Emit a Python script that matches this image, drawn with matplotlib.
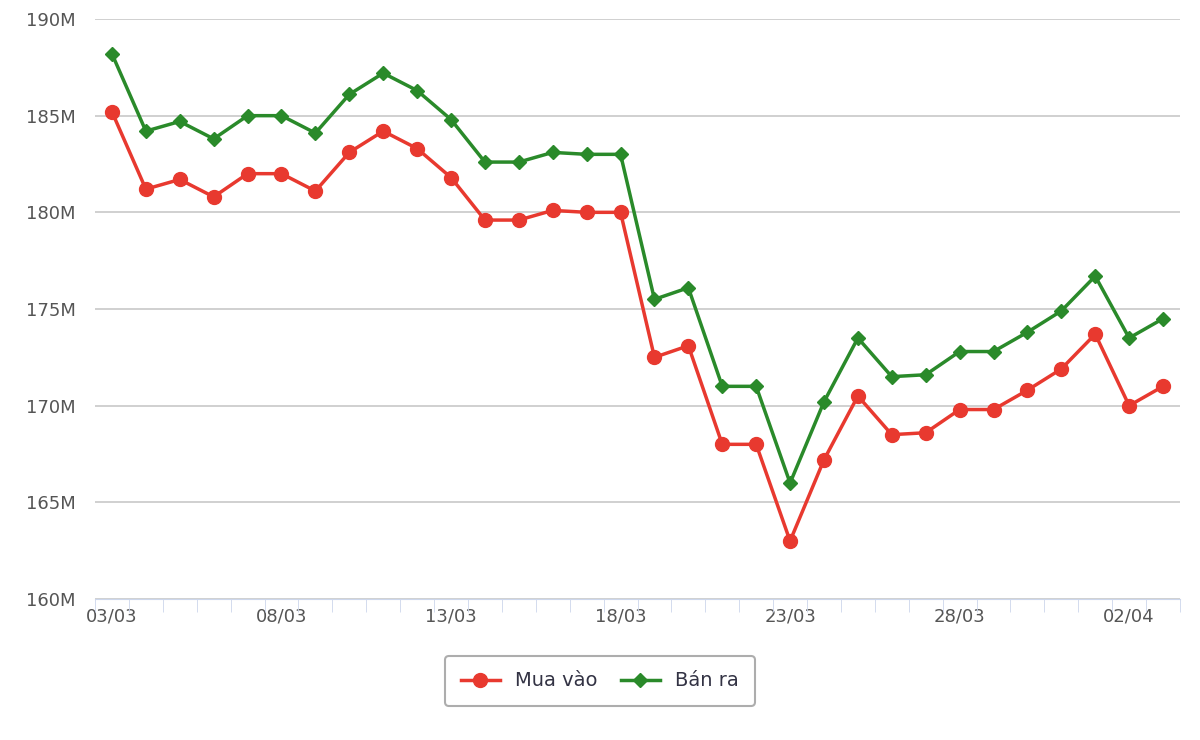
import matplotlib.pyplot as plt
from matplotlib.ticker import FuncFormatter, MultipleLocator

dates = ["03/03", "04/03", "05/03", "06/03", "07/03", "08/03", "09/03", "10/03",
         "11/03", "12/03", "13/03", "14/03", "15/03", "16/03", "17/03", "18/03",
         "19/03", "20/03", "21/03", "22/03", "23/03", "24/03", "25/03", "26/03",
         "27/03", "28/03", "29/03", "30/03", "31/03", "01/04", "02/04", "03/04"]
mua_vao = [185.2, 181.2, 181.7, 180.8, 182.0, 182.0, 181.1, 183.1, 184.2, 183.3,
           181.8, 179.6, 179.6, 180.1, 180.0, 180.0, 172.5, 173.1, 168.0, 168.0,
           163.0, 167.2, 170.5, 168.5, 168.6, 169.8, 169.8, 170.8, 171.9, 173.7,
           170.0, 171.0]
ban_ra = [188.2, 184.2, 184.7, 183.8, 185.0, 185.0, 184.1, 186.1, 187.2, 186.3,
          184.8, 182.6, 182.6, 183.1, 183.0, 183.0, 175.5, 176.1, 171.0, 171.0,
          166.0, 170.2, 173.5, 171.5, 171.6, 172.8, 172.8, 173.8, 174.9, 176.7,
          173.5, 174.5]

plt.rcParams['font.family'] = ['DejaVu Sans']
fig = plt.figure(figsize=(12, 7.4), dpi=100)
ax = fig.add_axes([95 / 1200, 1 - 599 / 740, 1085 / 1200, 580 / 740])

x = list(range(len(dates)))
ax.plot(x, mua_vao, color='#e8392f', lw=2.5, marker='o', ms=10, label='Mua vào', zorder=3)
ax.plot(x, ban_ra, color='#2a8a2a', lw=2.5, marker='D', ms=7, label='Bán ra', zorder=3)

ax.set_xlim(-0.5, 31.5)
ax.set_ylim(160, 190)
ax.yaxis.set_major_locator(MultipleLocator(5))
ax.yaxis.set_major_formatter(FuncFormatter(lambda v, p: f"{v:.0f}M"))
ax.set_xticks(x[::5])
ax.set_xticklabels(dates[::5])
ax.set_xticks([i + 0.5 for i in range(-1, 32)], minor=True)
ax.grid(axis='y', color='#c8c8c8', lw=1.2)
ax.set_axisbelow(True)
for s in ['top', 'right', 'left']:
    ax.spines[s].set_visible(False)
ax.spines['bottom'].set_color('#ccd6eb')
ax.tick_params(axis='y', length=0, labelsize=13, colors='#555555', pad=14)
ax.tick_params(axis='x', which='major', length=0, labelsize=13, colors='#555555', pad=6)
ax.tick_params(axis='x', which='minor', length=9, color='#ccd6eb')

leg = fig.legend(loc='center', bbox_to_anchor=(0.5, 1 - 681 / 740), ncol=2, fontsize=14,
                 frameon=True, edgecolor='#999999', fancybox=True, handlelength=2,
                 borderpad=0.8, columnspacing=1.2)
leg.get_frame().set_linewidth(1.5)
for t in leg.get_texts():
    t.set_color('#333344')

fig.savefig('out.png', dpi=100)
